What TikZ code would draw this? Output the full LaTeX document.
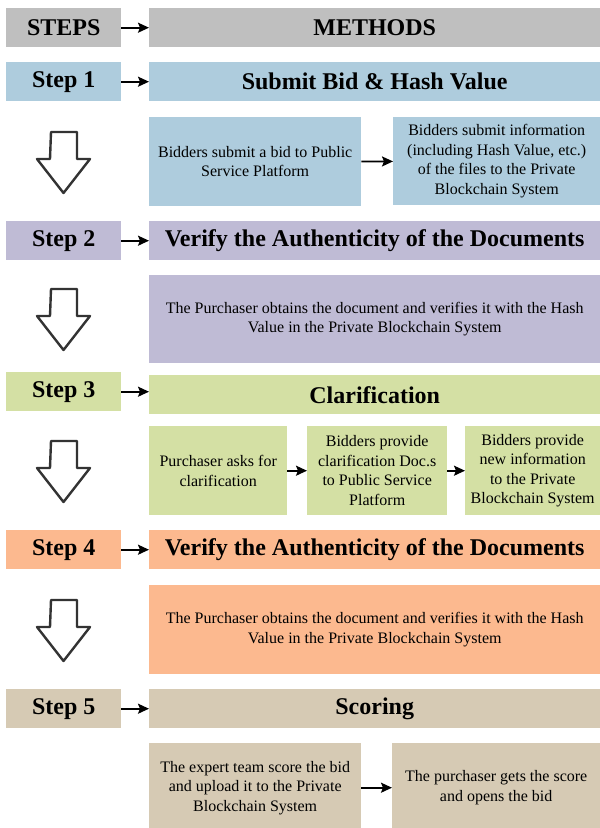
\documentclass[tikz,border=0pt]{standalone}
\usepackage{fontspec}
\setmainfont{Liberation Serif}[BoldFont={Liberation Serif Bold}]
\usetikzlibrary{arrows.meta}
\definecolor{greybox}{HTML}{BFBFBF}
\definecolor{bluebox}{HTML}{AECCDD}
\definecolor{purplebox}{HTML}{BFBBD5}
\definecolor{greenbox}{HTML}{D4E0A4}
\definecolor{orangebox}{HTML}{FCB98F}
\definecolor{tanbox}{HTML}{D6CAB4}
\definecolor{arrowgrey}{HTML}{333333}
\begin{document}
\begin{tikzpicture}[x=1pt, y=-1pt,
  box/.style={shape=rectangle, inner sep=0pt, anchor=north west, align=center},
  stephead/.style={box, minimum width=115pt, minimum height=39pt,
    font=\fontsize{24}{28}\selectfont\bfseries},
  methodhead/.style={box, minimum width=451pt, minimum height=39pt,
    font=\fontsize{24}{28}\selectfont\bfseries},
  detail/.style={box, font=\fontsize{16}{19.5}\selectfont},
  link/.style={-{Stealth[length=11pt, width=10pt, inset=2pt]}, line width=1.8pt},
  downarrow/.style={draw=arrowgrey, line width=2.4pt, line join=round, fill=white}]
\useasboundingbox (0,0) rectangle (600,828);
% header row
\node (steps) [stephead, fill=greybox] at (6,8) {STEPS};
\node (methods) [methodhead, fill=greybox] at (149,8) {METHODS};
\draw[link] (steps) -- (methods);
% step 1
\node (step1) [stephead, fill=bluebox] at (6,62) {Step 1};
\node (submit) [methodhead, fill=bluebox] at (149,62) {Submit Bid \& Hash Value};
\node (bid) [detail, fill=bluebox, minimum width=212pt, minimum height=89pt] at (149,117)
  {Bidders submit a bid to Public\\Service Platform};
\node (hashinfo) [detail, fill=bluebox, minimum width=207pt, minimum height=88pt] at (393,117)
  {Bidders submit information\\(including Hash Value, etc.)\\of the files to the Private\\Blockchain System};
\draw[link] (step1) -- (submit);
\draw[link] (bid) -- (hashinfo);
% step 2
\node (step2) [stephead, fill=purplebox] at (6,221) {Step 2};
\node (verify1) [methodhead, fill=purplebox] at (149,221) {Verify the Authenticity of the Documents};
\node (obtain1) [detail, fill=purplebox, minimum width=451pt, minimum height=88pt] at (149,275)
  {The Purchaser obtains the document and verifies it with the Hash\\Value in the Private Blockchain System};
\draw[link] (step2) -- (verify1);
% step 3
\node (step3) [stephead, fill=greenbox] at (6,372) {Step 3};
\node (clarify) [methodhead, fill=greenbox] at (149,375) {Clarification};
\node (asks) [detail, fill=greenbox, minimum width=138pt, minimum height=89pt] at (149,426)
  {Purchaser asks for\\clarification};
\node (provide) [detail, fill=greenbox, minimum width=140pt, minimum height=89pt] at (307,426)
  {Bidders provide\\clarification Doc.s\\to Public Service\\Platform};
\node (newinfo) [detail, fill=greenbox, minimum width=135pt, minimum height=89pt] at (465,426)
  {Bidders provide\\new information\\to the Private\\Blockchain System};
\draw[link] (step3.east) -- (step3.east -| clarify.west);
\draw[link] (asks) -- (provide);
\draw[link] (provide) -- (newinfo);
% step 4
\node (step4) [stephead, fill=orangebox] at (6,530) {Step 4};
\node (verify2) [methodhead, fill=orangebox] at (149,530) {Verify the Authenticity of the Documents};
\node (obtain2) [detail, fill=orangebox, minimum width=451pt, minimum height=89pt] at (149,585)
  {The Purchaser obtains the document and verifies it with the Hash\\Value in the Private Blockchain System};
\draw[link] (step4) -- (verify2);
% step 5
\node (step5) [stephead, fill=tanbox] at (6,689) {Step 5};
\node (scoring) [methodhead, fill=tanbox] at (149,689) {Scoring};
\node (expert) [detail, fill=tanbox, minimum width=212pt, minimum height=89pt] at (149,743)
  {The expert team score the bid\\and upload it to the Private\\Blockchain System};
\node (opens) [detail, fill=tanbox, minimum width=208pt, minimum height=89pt] at (392,743)
  {The purchaser gets the score\\and opens the bid};
\draw[link] (step5) -- (scoring);
\draw[link] (expert) -- (opens);
% hollow down arrows
\foreach \t in {132,289,441,600}
  \draw[downarrow] (51,\t) -- ++(26,0) -- ++(0,27) -- ++(13,0) -- ++(-26.5,34)
    -- ++(-26.5,-34) -- ++(13,0) -- cycle;
\end{tikzpicture}
\end{document}
